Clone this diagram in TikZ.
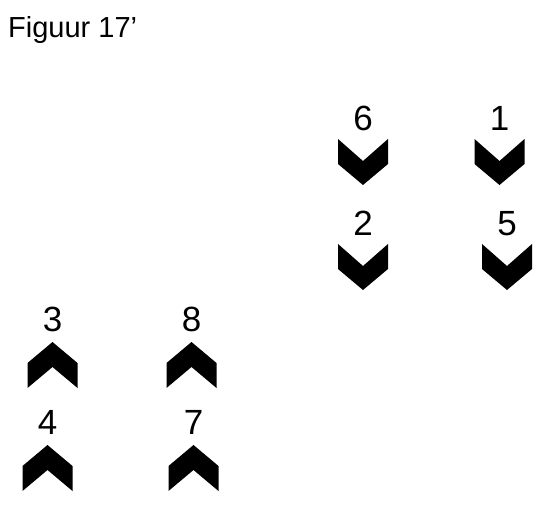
\documentclass[tikz,border=0pt]{standalone}
\usepackage{fontspec}
\setmainfont{Liberation Sans}
\usetikzlibrary{positioning}
\tikzset{
  chevdn/.pic={\fill (-25,0) -- (0,22) -- (25,0) -- (25,25) -- (0,46) -- (-25,25) -- cycle;},
  chevup/.pic={\fill (0,0) -- (25,21) -- (25,46) -- (0,25) -- (-25,46) -- (-25,21) -- cycle;},
  numlbl/.style={font=\fontsize{35}{42}\selectfont,inner sep=0pt},
  titlelbl/.style={font=\fontsize{29}{35}\selectfont,inner sep=0pt,anchor=base west},
}

\begin{document}
\begin{tikzpicture}[x=1pt,y=-1pt]
  \useasboundingbox (0,0) rectangle (546,511);
  \node[titlelbl] (title) at (8,38) {Figuur 17’};
  % rechts, punt omlaag
  \coordinate (c6) at (363,139);
  \coordinate (c1) at (499.5,139);
  \coordinate (c2) at (363,244);
  \coordinate (c5) at (507,244);
  % links, punt omhoog
  \coordinate (c3) at (52.5,342);
  \coordinate (c8) at (191.5,342);
  \coordinate (c4) at (47.5,445);
  \coordinate (c7) at (193.5,445);
  \pic at (c6) {chevdn};
  \pic at (c1) {chevdn};
  \pic at (c2) {chevdn};
  \pic at (c5) {chevdn};
  \pic at (c3) {chevup};
  \pic at (c8) {chevup};
  \pic at (c4) {chevup};
  \pic at (c7) {chevup};
  \node[numlbl,above=8pt of c6] (n6) {6};
  \node[numlbl,above=8pt of c1] (n1) {1};
  \node[numlbl,above=8pt of c2] (n2) {2};
  \node[numlbl,above=8pt of c5] (n5) {5};
  \node[numlbl,above=10pt of c3] (n3) {3};
  \node[numlbl,above=10pt of c8] (n8) {8};
  \node[numlbl,above=10pt of c4] (n4) {4};
  \node[numlbl,above=10pt of c7] (n7) {7};
\end{tikzpicture}
\end{document}
